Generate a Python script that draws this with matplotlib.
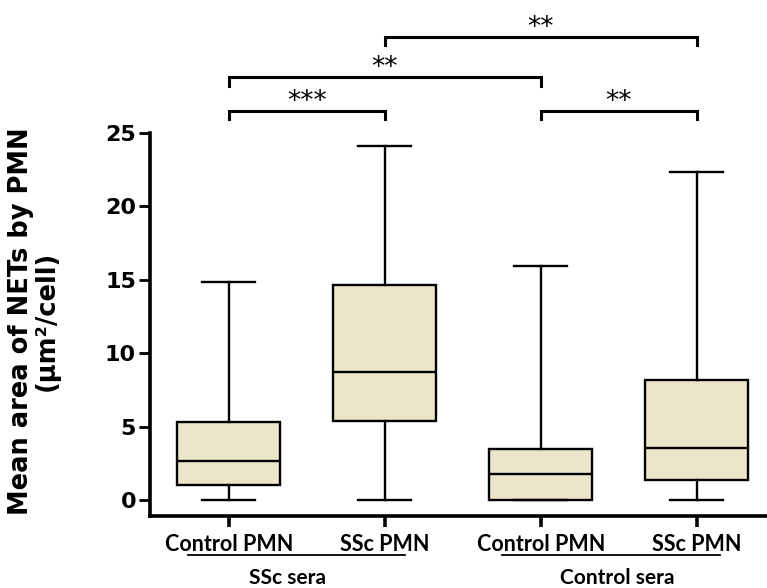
import matplotlib
matplotlib.use("Agg")
import matplotlib.pyplot as plt
import matplotlib.transforms as mtransforms

# ---- data ----
categories = ["Control PMN", "SSc PMN", "Control PMN", "SSc PMN"]
whisker_low = [0.0, 0.0, 0.0, 0.0]
q1 = [1.02, 5.38, 0.0, 1.36]
median = [2.66, 8.70, 1.77, 3.52]
q3 = [5.33, 14.65, 3.45, 8.17]
whisker_high = [14.83, 24.10, 15.96, 22.36]
groups = ["SSc sera", "Control sera"]
comparisons = [(1, 2, "***"), (1, 3, "**"), (2, 4, "**"), (3, 4, "**")]
comparison_levels = [26.5, 28.8, 31.55, 26.5]
yticks = [0, 5, 10, 15, 20, 25]

fill_color = "#ebe5ca"

fig = plt.figure(figsize=(7.67, 5.88), dpi=100)
ax = fig.add_axes([150 / 767, 72 / 588, 617 / 767, 383 / 588])

positions = list(range(1, len(categories) + 1))
stats = []
for i in range(len(categories)):
    stats.append(dict(med=median[i], q1=q1[i], q3=q3[i],
                      whislo=whisker_low[i], whishi=whisker_high[i],
                      fliers=[], label=categories[i]))

ax.bxp(stats, positions=positions, widths=0.66, patch_artist=True,
       showfliers=False, capwidths=0.34,
       boxprops=dict(facecolor=fill_color, edgecolor="black", linewidth=1.7),
       medianprops=dict(color="black", linewidth=1.7),
       whiskerprops=dict(color="black", linewidth=1.7),
       capprops=dict(color="black", linewidth=1.7))

ax.set_xlim(0.494, 4.45)
ax.set_ylim(-1.09, 25)
ax.spines["top"].set_visible(False)
ax.spines["right"].set_visible(False)
ax.spines["left"].set_linewidth(2.6)
ax.spines["bottom"].set_linewidth(2.6)

ax.set_yticks(yticks)
ax.set_yticklabels([str(t) for t in yticks], fontsize=16, fontweight="bold",
                   family="DejaVu Sans")
ax.set_xticks(positions)
ax.set_xticklabels(categories, fontsize=15.5, fontweight="bold", family="Lato")
ax.tick_params(axis="y", direction="out", length=8, width=2, pad=2)
ax.tick_params(axis="x", direction="out", length=8, width=2.6, pad=5)

fig.text(34 / 767, (588 - 321) / 588, "Mean area of NETs by PMN\n(µm²/cell)",
         rotation=90, ha="center", va="center", fontsize=18.5,
         fontweight="bold", family="DejaVu Sans", linespacing=1.0,
         multialignment="center")

# group underlines and labels
trans = mtransforms.blended_transform_factory(ax.transData, ax.transAxes)
group_spans = [(0.737, 2.128), (2.75, 4.147)]
group_centers = [1.378, 3.487]
for (x1, x2), xc, g in zip(group_spans, group_centers, groups):
    ax.plot([x1, x2], [-0.102, -0.102], color="black", lw=1.3,
            transform=trans, clip_on=False)
    ax.text(xc, -0.177, g, transform=trans, ha="center",
            va="baseline", fontsize=15, fontweight="bold", family="Lato")

# significance brackets
drop = 0.58
for (a, b, lab), lvl in zip(comparisons, comparison_levels):
    ax.plot([a, a, b, b], [lvl - drop, lvl, lvl, lvl - drop], color="black",
            lw=2.2, clip_on=False, solid_joinstyle="miter")
    ax.text((a + b) / 2, lvl - 0.25, lab, ha="center", va="bottom",
            fontsize=19, family="DejaVu Sans")

fig.savefig("out.png", dpi=100)
